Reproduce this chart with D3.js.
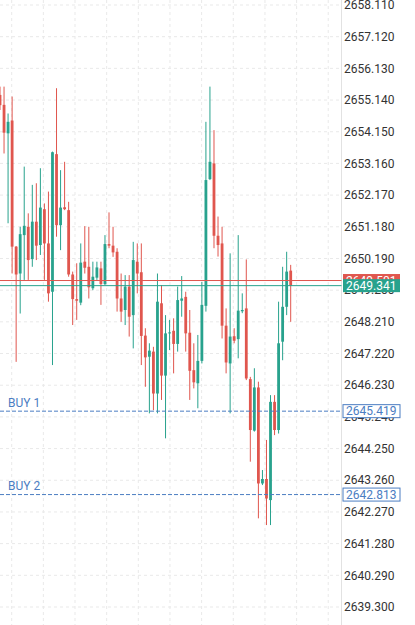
<!DOCTYPE html>
<html>
<head>
<meta charset="utf-8">
<script src="https://cdn.jsdelivr.net/npm/d3@7"></script>
<style>
body { margin: 0; background: #fff; }
svg { display: block; font-family: Roboto, sans-serif; }
</style>
</head>
<body>
<svg id="chart" width="415" height="625"></svg>
<script>
var opens  = [2655.30, 2654.99, 2654.10, 2654.50, 2650.56, 2649.72, 2650.92, 2651.18, 2650.17, 2651.34,
              2650.61, 2651.73, 2650.66, 2649.15, 2653.45, 2651.23, 2651.79, 2651.70, 2649.69, 2648.92,
              2648.81, 2650.09, 2649.93, 2649.26, 2649.59, 2649.88, 2649.39, 2650.64, 2650.59, 2650.40,
              2648.94, 2648.58, 2649.31, 2648.42, 2650.09, 2649.76, 2647.78, 2647.12, 2647.28, 2645.97,
              2648.79, 2646.53, 2647.85, 2647.93, 2647.52, 2648.87, 2648.99, 2647.87, 2646.70, 2646.29,
              2646.99, 2648.71, 2652.67, 2653.16, 2650.90, 2650.66, 2648.09, 2646.91, 2647.76, 2647.67,
              2648.54, 2648.63, 2646.42, 2644.81, 2646.16, 2643.16, 2643.30, 2642.64, 2645.71, 2644.83,
              2647.59, 2648.68, 2649.81];
var highs  = [2655.56, 2655.56, 2654.72, 2655.25, 2650.58, 2651.18, 2653.06, 2651.60, 2652.49, 2652.54,
              2653.01, 2651.91, 2652.28, 2653.53, 2655.51, 2652.95, 2653.21, 2651.96, 2649.78, 2650.04,
              2650.66, 2651.20, 2651.18, 2650.09, 2650.09, 2650.09, 2650.92, 2651.63, 2651.18, 2650.51,
              2649.72, 2649.67, 2649.67, 2650.71, 2650.66, 2650.66, 2648.01, 2647.54, 2647.43, 2649.72,
              2649.36, 2648.42, 2648.27, 2648.32, 2649.31, 2649.64, 2649.15, 2648.58, 2647.54, 2647.80,
              2649.46, 2654.46, 2655.56, 2654.20, 2651.50, 2651.18, 2648.63, 2650.35, 2648.01, 2650.92,
              2649.10, 2650.16, 2646.49, 2646.76, 2646.34, 2643.58, 2644.52, 2645.92, 2645.92, 2648.84,
              2649.93, 2650.40, 2649.99];
var lows   = [2654.83, 2653.47, 2651.29, 2649.72, 2646.96, 2648.47, 2649.52, 2649.52, 2649.93, 2650.14,
              2650.30, 2649.52, 2648.84, 2646.86, 2650.87, 2650.45, 2651.70, 2649.62, 2648.11, 2648.27,
              2648.73, 2649.72, 2648.94, 2649.20, 2649.52, 2648.74, 2649.36, 2650.51, 2650.24, 2648.53,
              2648.21, 2648.11, 2647.75, 2647.38, 2649.10, 2646.86, 2646.18, 2645.35, 2645.45, 2645.35,
              2645.77, 2644.57, 2647.33, 2646.60, 2647.28, 2648.37, 2647.28, 2645.77, 2646.13, 2645.51,
              2646.91, 2648.53, 2652.64, 2650.51, 2650.25, 2647.69, 2646.60, 2645.35, 2647.54, 2647.07,
              2648.48, 2646.39, 2643.84, 2644.78, 2642.07, 2643.11, 2641.86, 2641.86, 2644.67, 2644.72,
              2647.01, 2648.42, 2648.21];
var closes = [2654.98, 2654.12, 2654.46, 2650.56, 2649.69, 2650.95, 2651.21, 2650.14, 2651.34, 2650.59,
              2651.78, 2650.66, 2649.10, 2653.51, 2651.23, 2651.78, 2651.73, 2649.69, 2648.92, 2648.87,
              2650.06, 2649.90, 2649.29, 2649.62, 2649.91, 2649.39, 2650.64, 2650.59, 2650.38, 2648.94,
              2648.53, 2649.31, 2648.37, 2650.14, 2649.72, 2647.77, 2647.10, 2647.31, 2645.97, 2648.84,
              2646.53, 2647.85, 2647.88, 2647.52, 2648.89, 2648.94, 2647.85, 2646.68, 2646.32, 2646.99,
              2648.74, 2652.64, 2653.21, 2650.90, 2650.61, 2648.09, 2646.94, 2647.75, 2647.62, 2648.56,
              2648.58, 2646.44, 2644.83, 2646.16, 2643.16, 2643.30, 2642.69, 2645.71, 2644.83, 2647.54,
              2648.68, 2649.78, 2649.341];

var priceTicks = ['2658.110', '2657.120', '2656.130', '2655.140', '2654.150', '2653.160', '2652.170',
                  '2651.180', '2650.190', '2649.200', '2648.210', '2647.220', '2646.230', '2645.240',
                  '2644.250', '2643.260', '2642.270', '2641.280', '2640.290', '2639.300'];

var buyNames = ['BUY 1', 'BUY 2'];
var buyLevels = [2645.419, 2642.813];
var askPrice = 2649.501;
var bidPrice = 2649.341;

var up_color = '#28a28d';
var down_color = '#e0564e';
var blue = '#4b7dc2';

var svg = d3.select('#chart');
var width = 415;
var height = 625;
var plot_right = 341.5;

var x = d3.scaleLinear().domain([0, opens.length - 1]).range([0, 290.7]);
var y = d3.scaleLinear().domain([2639.300, 2658.110]).range([607, 5]);

// grid
var vgrid = d3.range(11).map(function(i) { return 2.9 + i * 7.84; });
svg.append('g').selectAll('line').data(vgrid).enter().append('line')
    .attr('x1', function(d) { return x(d); }).attr('x2', function(d) { return x(d); })
    .attr('y1', 0).attr('y2', height)
    .attr('stroke', '#e9e9e9').attr('stroke-dasharray', '3,3');
svg.append('g').selectAll('line').data(priceTicks).enter().append('line')
    .attr('x1', 0).attr('x2', plot_right)
    .attr('y1', function(d) { return y(+d); }).attr('y2', function(d) { return y(+d); })
    .attr('stroke', '#e9e9e9').attr('stroke-dasharray', '3,3');
svg.append('line')
    .attr('x1', plot_right).attr('x2', plot_right).attr('y1', 0).attr('y2', height)
    .attr('stroke', '#e2e2e2');

// candles
var candles = svg.append('g').selectAll('g').data(d3.range(opens.length)).enter().append('g');
var colorOf = function(i) { return closes[i] >= opens[i] ? up_color : down_color; };
candles.append('line')
    .attr('x1', function(i) { return x(i); }).attr('x2', function(i) { return x(i); })
    .attr('y1', function(i) { return y(highs[i]); }).attr('y2', function(i) { return y(lows[i]); })
    .attr('stroke', colorOf).attr('stroke-width', 1);
candles.append('rect')
    .attr('x', function(i) { return x(i) - 1.4; })
    .attr('width', 2.8)
    .attr('y', function(i) { return y(Math.max(opens[i], closes[i])); })
    .attr('height', function(i) { return Math.max(1, Math.abs(y(opens[i]) - y(closes[i]))); })
    .attr('fill', colorOf);

// buy levels
buyLevels.forEach(function(level, k) {
    svg.append('line')
        .attr('x1', 0).attr('x2', plot_right)
        .attr('y1', y(level)).attr('y2', y(level))
        .attr('stroke', blue).attr('stroke-dasharray', '4,2');
    svg.append('text')
        .attr('x', 8).attr('y', y(level) - 4.5)
        .attr('fill', blue).attr('font-size', 12)
        .text(buyNames[k]);
});

// price lines
svg.append('line')
    .attr('x1', 0).attr('x2', plot_right).attr('y1', y(askPrice)).attr('y2', y(askPrice))
    .attr('stroke', down_color);
svg.append('line')
    .attr('x1', 0).attr('x2', plot_right).attr('y1', y(bidPrice)).attr('y2', y(bidPrice))
    .attr('stroke', up_color);

// right axis
svg.append('g').selectAll('text').data(priceTicks).enter().append('text')
    .attr('x', 344).attr('y', function(d) { return y(+d); }).attr('dy', '0.35em')
    .attr('fill', '#333').attr('font-size', 12)
    .text(function(d) { return d; });

var tag = function(price, fill, stroke, textColor) {
    var g = svg.append('g').attr('transform', 'translate(343,' + y(price) + ')');
    g.append('rect')
        .attr('x', 0).attr('y', -6.5).attr('width', 57).attr('height', 13)
        .attr('fill', fill).attr('stroke', stroke || 'none');
    g.append('text')
        .attr('x', 3).attr('dy', '0.35em')
        .attr('fill', textColor).attr('font-size', 12)
        .text(d3.format('.3f')(price));
};
tag(askPrice, down_color, null, '#fff');
tag(bidPrice, up_color, null, '#fff');
buyLevels.forEach(function(level) { tag(level, '#fff', blue, blue); });
</script>
</body>
</html>
